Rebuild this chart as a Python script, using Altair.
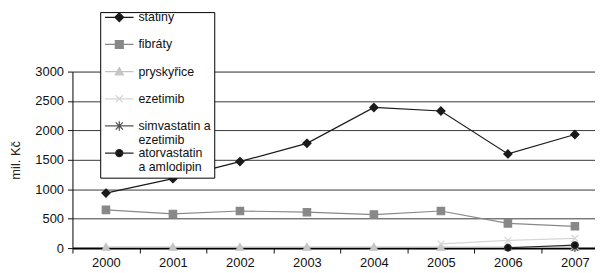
import altair as alt
import pandas as pd

years = [2000, 2001, 2002, 2003, 2004, 2005, 2006, 2007]
series = ["statiny", "fibráty", "pryskyřice", "ezetimib",
          "simvastatin a ezetimib", "atorvastatin a amlodipin"]
label_lines = {
    "simvastatin a ezetimib": ["simvastatin a", "ezetimib"],
    "atorvastatin a amlodipin": ["atorvastatin", "a amlodipin"],
}

statiny = [935, 1180, 1470, 1780, 2390, 2330, 1600, 1930]
fibraty = [650, 580, 630, 610, 570, 630, 420, 370]
pryskyrice = [15, 15, 15, 15, 15, 15, 15, 15]
ezetimib = [None, None, None, None, None, 70, 130, 165]
simva_ezet = [None, None, None, None, None, None, None, 8]
atorva_amlo = [None, None, None, None, None, None, 5, 50]

values = [statiny, fibraty, pryskyrice, ezetimib, simva_ezet, atorva_amlo]

line_colors = ["#1a1a1a", "#888888", "#c2c2c2", "#d6d6d6", "#555555", "#262626"]
fill_colors = ["#1a1a1a", "#888888", "#c8c8c8", "transparent", "transparent", "#111111"]


def marker(kind, cy=0.0):
    if kind == "diamond":
        return f"M0,{cy-1.1}L1.1,{cy}L0,{cy+1.1}L-1.1,{cy}Z"
    if kind == "square":
        return f"M-1,{cy-1}H1V{cy+1}H-1Z"
    if kind == "triangle":
        return f"M0,{cy-1}L1,{cy+0.8}H-1Z"
    if kind == "x":
        return f"M-0.9,{cy-0.9}L0.9,{cy+0.9}M-0.9,{cy+0.9}L0.9,{cy-0.9}"
    if kind == "aster":
        return (f"M-0.9,{cy-0.9}L0.9,{cy+0.9}M-0.9,{cy+0.9}L0.9,{cy-0.9}"
                f"M0,{cy-1.2}V{cy+1.2}")
    return f"M-0.9,{cy}A0.9,0.9 0 1,0 0.9,{cy}A0.9,0.9 0 1,0 -0.9,{cy}Z"


kinds = ["diamond", "square", "triangle", "x", "aster", "circle"]
plot_shapes = [marker(k) for k in kinds]
legend_shapes = ["M-3.6,-1H3.6" + marker(k, -1.0) for k in kinds]

rows = []
for s, vals in zip(series, values):
    for y, v in zip(years, vals):
        if v is not None:
            rows.append({"year": y, "series": s, "value": v})
df = pd.DataFrame(rows)

tick_vals = sorted([y - 0.5 for y in years] + years)

label_expr = " : ".join(
    [f"datum.label == '{k}' ? {v}" for k, v in label_lines.items()] + ["datum.label"]
)

x_enc = alt.X(
    "year:Q",
    scale=alt.Scale(domain=[1999.5, 2007.3], nice=False, zero=False),
    axis=alt.Axis(
        values=tick_vals,
        labelExpr="datum.value % 1 === 0 ? datum.value : ''",
        tickColor=alt.condition("datum.value % 1 !== 0", alt.value("#111111"),
                                alt.value("transparent")),
        tickSize=5,
        labelFlush=False,
        labelOverlap=False,
        labelFontSize=13,
        labelColor="#111111",
        labelPadding=4,
        domainColor="#000000",
        domainWidth=2,
        grid=False,
        title=None,
    ),
)
y_enc = alt.Y(
    "value:Q",
    scale=alt.Scale(domain=[0, 3000], nice=False),
    axis=alt.Axis(
        values=[0, 500, 1000, 1500, 2000, 2500, 3000],
        format="d",
        title="mil. Kč",
        titleFontSize=13,
        titleFontWeight="normal",
        titleColor="#222222",
        titlePadding=12,
        labelFontSize=13,
        labelColor="#111111",
        labelPadding=4,
        tickSize=5,
        tickColor="#111111",
        domainColor="#111111",
        gridColor="#3a3a3a",
        gridWidth=1,
    ),
)


def fill_scale():
    return alt.Scale(domain=series, range=fill_colors)


def stroke_scale():
    return alt.Scale(domain=series, range=line_colors)


base = alt.Chart(df)

lines = base.mark_line(strokeWidth=1.2).encode(
    x=x_enc, y=y_enc,
    stroke=alt.Stroke("series:N", scale=stroke_scale(), legend=None),
    order=alt.Order("year:Q"),
)

points = base.mark_point(filled=True, opacity=1, strokeWidth=1.2, size=56).encode(
    x=x_enc, y=y_enc,
    shape=alt.Shape("series:N", scale=alt.Scale(domain=series, range=plot_shapes),
                    legend=None),
    fill=alt.Fill("series:N", scale=fill_scale(), legend=None),
    stroke=alt.Stroke("series:N", scale=stroke_scale(), legend=None),
)

leg = alt.Legend(
    title=None,
    orient="none",
    legendX=28,
    legendY=-60,
    strokeColor="#000000",
    fillColor="#ffffff",
    padding=3,
    symbolOffset=10,
    symbolSize=64,
    symbolStrokeWidth=1.2,
    labelOffset=13,
    labelFontSize=12.5,
    labelColor="#111111",
    labelBaseline="alphabetic",
    labelExpr=label_expr,
    rowPadding=-1.6,
    gridAlign="all",
)

legend_layer = base.transform_filter("false").mark_point(
    filled=True, opacity=1, strokeWidth=1.2).encode(
    x=x_enc, y=y_enc,
    shape=alt.Shape("series:N", scale=alt.Scale(domain=series, range=legend_shapes),
                    legend=leg),
    fill=alt.Fill("series:N", scale=fill_scale(), legend=leg),
    stroke=alt.Stroke("series:N", scale=stroke_scale(), legend=leg),
)

chart = alt.layer(lines, points, legend_layer).resolve_scale(
    shape="independent", fill="independent", stroke="independent"
).properties(
    width=527,
    height=178,
    padding={"left": 2, "top": 2, "right": 0, "bottom": 0},
).configure_view(stroke=None).configure(font="Liberation Sans")

chart.save("out.html", embed_options={"renderer": "svg", "actions": False})
